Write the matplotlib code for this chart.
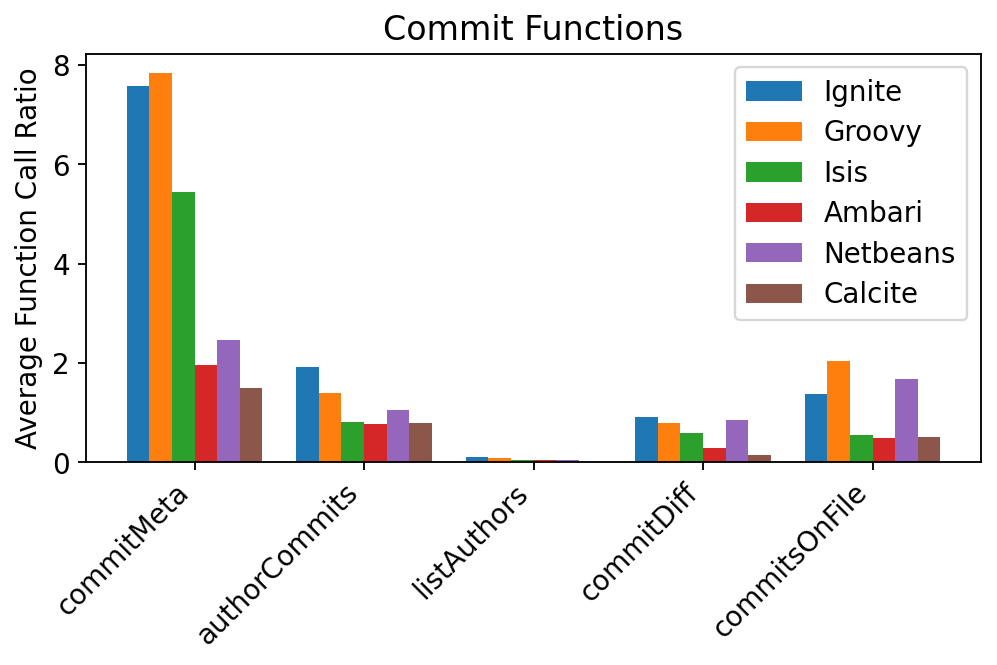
import numpy as np
import matplotlib
matplotlib.use("Agg")
import matplotlib.pyplot as plt

functions = ["commitMeta", "authorCommits", "listAuthors", "commitDiff", "commitsOnFile"]
projects = ["Ignite", "Groovy", "Isis", "Ambari", "Netbeans", "Calcite"]

ignite = [7.58, 1.92, 0.095, 0.92, 1.38]
groovy = [7.84, 1.40, 0.075, 0.79, 2.03]
isis = [5.45, 0.81, 0.04, 0.58, 0.55]
ambari = [1.95, 0.77, 0.04, 0.29, 0.48]
netbeans = [2.47, 1.06, 0.04, 0.86, 1.67]
calcite = [1.50, 0.79, 0.01, 0.155, 0.50]

series = [ignite, groovy, isis, ambari, netbeans, calcite]

plt.rcParams["font.size"] = 12

fig = plt.figure(figsize=(6, 4), dpi=166.33)
ax = fig.add_axes([0.0862, 0.3048, 0.8968, 0.6141])

x = np.arange(len(functions))
width = 0.8 / len(projects)
for i, (name, vals) in enumerate(zip(projects, series)):
    ax.bar(x - 0.4 + width * (i + 0.5), vals, width, label=name)

ax.set_xticks(x)
ax.set_xticklabels(functions, rotation=45, ha="right")
ax.set_ylabel("Average Function Call Ratio")
ax.set_title("Commit Functions")
ax.legend(loc="upper right", labelspacing=0.45)

fig.savefig("out.png", dpi=166.33)
